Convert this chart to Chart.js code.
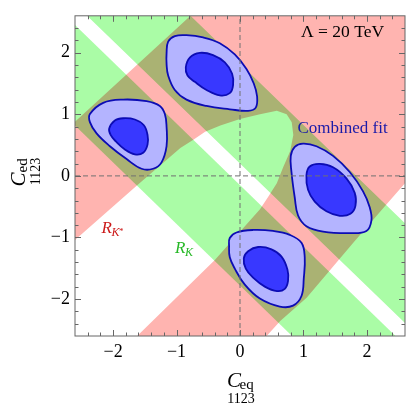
<!DOCTYPE html>
<html><head><meta charset="utf-8">
<script src="https://cdn.jsdelivr.net/npm/chart.js@4.4.1/dist/chart.umd.min.js"></script>
<style>html,body{margin:0;padding:0;background:#fff;} #wrap{width:411px;height:412px;}</style>
</head><body><div id="wrap"><canvas id="c" width="411" height="412"></canvas></div>
<script>
// ---- axes ----
const xRange = [-2.6, 2.6];
const yRange = [-2.6, 2.6];
const majorTicks = [-2, -1, 0, 1, 2];
const minorTicks = [-2.4, -2.2, -1.8, -1.6, -1.4, -1.2, -0.8, -0.6, -0.4, -0.2,
                    0.2, 0.4, 0.6, 0.8, 1.2, 1.4, 1.6, 1.8, 2.2, 2.4];

// ---- R_K allowed region (two bands) ----
const rkBandUpper = [[-2.41, 2.6], [-0.78, 2.6], [2.6, -0.77], [2.6, -2.39], [-2.41, 2.6]];
const rkBandLower = [[-2.6, 0.82], [-2.6, 2.45], [2.45, -2.6], [0.82, -2.6], [-2.6, 0.82]];

// ---- R_K* allowed region ----
const rkStarRegion = [
  [-0.78, 2.6], [2.6, 2.6], [2.6, -0.12], [2.31, -0.46], [1.785, -1.087], [1.05, -1.98],
  [0.634, -2.358], [0.42, -2.6], [-1.62, -2.6], [-0.397, -1.365], [0.315, -0.54],
  [0.45, -0.33], [0.58, -0.12], [0.68, 0.14], [0.79, 0.40], [0.84, 0.665], [0.815, 0.87],
  [0.735, 1.0], [0.58, 1.06], [0.315, 1.0], [0, 0.925], [-0.31, 0.82], [-0.55, 0.717],
  [-0.735, 0.587], [-0.94, 0.455], [-1.62, -0.15], [-2.6, -1.04], [-2.6, 0.88], [-0.78, 2.6]
];

// ---- Combined fit contours (outer = 2 sigma, inner = 1 sigma), closed loops ----
const fitLeftOuter = [
  [-2.365, 1.004], [-2.156, 1.187], [-1.841, 1.239], [-1.472, 1.214], [-1.263, 1.136],
  [-1.184, 1.004], [-1.157, 0.795], [-1.157, 0.482], [-1.236, 0.220], [-1.369, 0.116],
  [-1.551, 0.116], [-1.787, 0.273], [-2.050, 0.482], [-2.260, 0.690], [-2.365, 0.873]
];
const fitLeftInner = [
  [-2.061, 0.769], [-1.972, 0.900], [-1.841, 0.936], [-1.657, 0.916], [-1.515, 0.822],
  [-1.457, 0.665], [-1.457, 0.508], [-1.526, 0.376], [-1.657, 0.351], [-1.814, 0.430],
  [-1.956, 0.560], [-2.039, 0.665]
];
const fitTopOuter = [
  [0.249, 1.109], [0.128, 1.057], [-0.161, 1.082], [-0.528, 1.136], [-0.843, 1.239],
  [-1.027, 1.396], [-1.132, 1.631], [-1.157, 1.815], [-1.157, 1.998], [-1.132, 2.180],
  [-1.027, 2.270], [-0.843, 2.285], [-0.581, 2.249], [-0.318, 2.155], [-0.082, 1.972],
  [0.102, 1.736], [0.217, 1.501], [0.269, 1.293]
];
const fitTopInner = [
  [-0.854, 1.763], [-0.791, 1.920], [-0.633, 1.998], [-0.424, 1.961], [-0.239, 1.842],
  [-0.124, 1.658], [-0.109, 1.475], [-0.161, 1.344], [-0.318, 1.308], [-0.528, 1.396],
  [-0.712, 1.528], [-0.827, 1.631]
];
const fitRightOuter = [
  [0.863, 0.471], [0.994, 0.524], [1.205, 0.482], [1.466, 0.325], [1.729, 0.063],
  [1.939, -0.251], [2.044, -0.511], [2.071, -0.722], [1.992, -0.894], [1.729, -0.930],
  [1.309, -0.904], [1.047, -0.816], [0.915, -0.643], [0.863, -0.355], [0.811, 0.063],
  [0.800, 0.325]
];
const fitRightInner = [
  [1.047, 0.011], [1.099, 0.152], [1.257, 0.195], [1.466, 0.141], [1.677, -0.041],
  [1.808, -0.276], [1.819, -0.486], [1.740, -0.616], [1.572, -0.648], [1.362, -0.574],
  [1.178, -0.417], [1.072, -0.224]
];
const fitBottomOuter = [
  [-0.161, -1.009], [-0.055, -0.919], [0.206, -0.878], [0.521, -0.894], [0.784, -0.957],
  [0.969, -1.087], [1.020, -1.322], [1.005, -1.663], [0.969, -1.950], [0.836, -2.107],
  [0.627, -2.122], [0.313, -1.992], [0.076, -1.766], [-0.082, -1.506], [-0.161, -1.322],
  [-0.172, -1.139]
];
const fitBottomInner = [
  [0.060, -1.338], [0.128, -1.224], [0.285, -1.155], [0.496, -1.192], [0.654, -1.311],
  [0.748, -1.522], [0.757, -1.704], [0.706, -1.835], [0.584, -1.871], [0.391, -1.798],
  [0.206, -1.652], [0.091, -1.506]
];

// reference lines
const zeroLineV = [[0, -2.6], [0, 2.6]];
const zeroLineH = [[-2.6, 0], [2.6, 0]];

const toXY = a => a.map(([x, y]) => ({x, y}));
const FONT = '"Liberation Serif", "Times New Roman", serif';

function region(data, color, order, last) {
  return {data: toXY(data), showLine: true, fill: 'shape', backgroundColor: color,
          borderColor: 'rgba(0,0,0,0)', borderWidth: 0, pointRadius: 0, tension: 0,
          order: order, lastBlend: !!last};
}
function contour(data, color, order) {
  return {data: toXY(data), showLine: true, fill: 'shape', backgroundColor: color,
          borderColor: '#0c0cb4', borderWidth: 1.8, pointRadius: 0, tension: 0.4,
          order: order, closed: true};
}
function dashed(data) {
  return {data: toXY(data), showLine: true, fill: false, borderColor: '#707070',
          borderWidth: 1, borderDash: [5, 3], pointRadius: 0, order: 1};
}

const fmt = v => (v < 0 ? '\u2212' + Math.abs(v) : String(v));

// close the contour lines into smooth loops
const loopPlugin = {
  id: 'loop',
  afterDatasetsUpdate(chart) {
    chart.data.datasets.forEach((ds, i) => {
      if (!ds.closed) return;
      const line = chart.getDatasetMeta(i).dataset;
      if (!line) return;
      line._loop = true;
      line._fullLoop = true;
      line._pointsUpdated = false;
      line._segments = undefined;
    });
  }
};

const blendPlugin = {
  id: 'blend',
  beforeDatasetsDraw(chart) { chart.ctx.save(); chart.ctx.globalCompositeOperation = 'multiply'; },
  afterDatasetDraw(chart, args) { if (chart.data.datasets[args.index].lastBlend) chart.ctx.restore(); }
};

const framePlugin = {
  id: 'frame',
  afterDatasetsDraw(chart) {
    const {ctx, chartArea: a, scales: {x, y}} = chart;
    ctx.save();
    ctx.strokeStyle = '#666';
    ctx.lineWidth = 1;
    ctx.strokeRect(a.left, a.top, a.right - a.left, a.bottom - a.top);
    const draw = (vals, len) => {
      vals.forEach(v => {
        const px = Math.round(x.getPixelForValue(v)) + 0.5;
        const py = Math.round(y.getPixelForValue(v)) + 0.5;
        ctx.beginPath();
        ctx.moveTo(px, a.bottom); ctx.lineTo(px, a.bottom - len);
        ctx.moveTo(px, a.top); ctx.lineTo(px, a.top + len);
        ctx.moveTo(a.left, py); ctx.lineTo(a.left + len, py);
        ctx.moveTo(a.right, py); ctx.lineTo(a.right - len, py);
        ctx.stroke();
      });
    };
    draw(majorTicks, 6);
    draw(minorTicks, 3.5);
    ctx.restore();
  }
};

const textPlugin = {
  id: 'texts',
  afterDraw(chart) {
    const {ctx, chartArea: a} = chart;
    const cx = (a.left + a.right) / 2;
    const cy = (a.top + a.bottom) / 2;
    ctx.save();
    ctx.fillStyle = '#000';
    ctx.textAlign = 'left';
    ctx.textBaseline = 'alphabetic';
    // x title
    ctx.font = 'italic 21px ' + FONT;
    ctx.fillText('C', cx - 13, 387);
    ctx.font = '15px ' + FONT;
    ctx.fillText('eq', cx - 0.5, 389);
    ctx.textAlign = 'center';
    ctx.font = '14px ' + FONT;
    ctx.fillText('1123', cx + 1, 403);
    // y title
    ctx.save();
    ctx.translate(25, cy - 2.5 + 13);
    ctx.rotate(-Math.PI / 2);
    ctx.textAlign = 'left';
    ctx.font = 'italic 21px ' + FONT;
    ctx.fillText('C', 0, 0);
    ctx.font = '15px ' + FONT;
    ctx.fillText('ed', 14, 1.5);
    ctx.textAlign = 'center';
    ctx.font = '14px ' + FONT;
    ctx.fillText('1123', 15, 14.5);
    ctx.restore();
    // annotations
    ctx.textAlign = 'left';
    ctx.font = '17.5px ' + FONT;
    ctx.fillStyle = '#000';
    ctx.fillText('\u039B = 20 TeV', 301, 36.5);
    ctx.fillStyle = '#1a1aa8';
    ctx.font = '17px ' + FONT;
    ctx.fillText('Combined fit', 297.5, 133);
    // R_K* label
    ctx.fillStyle = '#cc1a1a';
    ctx.font = 'italic 17px ' + FONT;
    ctx.fillText('R', 101.5, 233.3);
    ctx.font = 'italic 12px ' + FONT;
    ctx.fillText('K', 111.5, 235.5);
    ctx.font = '9px ' + FONT;
    ctx.fillText('*', 119, 233.5);
    // R_K label
    ctx.fillStyle = '#26b826';
    ctx.font = 'italic 17px ' + FONT;
    ctx.fillText('R', 175, 252.7);
    ctx.font = 'italic 12px ' + FONT;
    ctx.fillText('K', 185, 255.5);
    ctx.restore();
  }
};

new Chart(document.getElementById('c'), {
  type: 'scatter',
  data: {
    datasets: [
      region(rkBandUpper, 'rgb(170,252,166)', 10),
      region(rkBandLower, 'rgb(170,252,166)', 9),
      region(rkStarRegion, 'rgb(255,180,176)', 8, true),
      contour(fitLeftOuter, '#b4b4ff', 5),
      contour(fitTopOuter, '#b4b4ff', 5),
      contour(fitRightOuter, '#b4b4ff', 5),
      contour(fitBottomOuter, '#b4b4ff', 5),
      contour(fitLeftInner, '#3838ff', 4),
      contour(fitTopInner, '#3838ff', 4),
      contour(fitRightInner, '#3838ff', 4),
      contour(fitBottomInner, '#3838ff', 4),
      dashed(zeroLineV),
      dashed(zeroLineH)
    ]
  },
  options: {
    responsive: false,
    devicePixelRatio: 1,
    animation: false,
    layout: {padding: {left: 45, right: 6, top: 4.5, bottom: 16}},
    plugins: {legend: {display: false}, tooltip: {enabled: false}},
    elements: {line: {capBezierPoints: false}},
    scales: {
      x: {
        type: 'linear', min: xRange[0], max: xRange[1],
        afterBuildTicks: ax => { ax.ticks = majorTicks.map(v => ({value: v})); },
        afterFit: s => { s.height = 60; },
        ticks: {callback: fmt, font: {family: FONT, size: 18}, color: '#000', padding: 5,
                maxRotation: 0, autoSkip: false},
        grid: {display: false, drawTicks: false},
        border: {display: false}
      },
      y: {
        type: 'linear', min: yRange[0], max: yRange[1],
        afterBuildTicks: ax => { ax.ticks = majorTicks.map(v => ({value: v})); },
        afterFit: s => { s.width = 30; },
        ticks: {callback: fmt, font: {family: FONT, size: 18}, color: '#000', padding: 5,
                autoSkip: false},
        grid: {display: false, drawTicks: false},
        border: {display: false}
      }
    }
  },
  plugins: [loopPlugin, blendPlugin, framePlugin, textPlugin]
});
</script>
</body></html>
